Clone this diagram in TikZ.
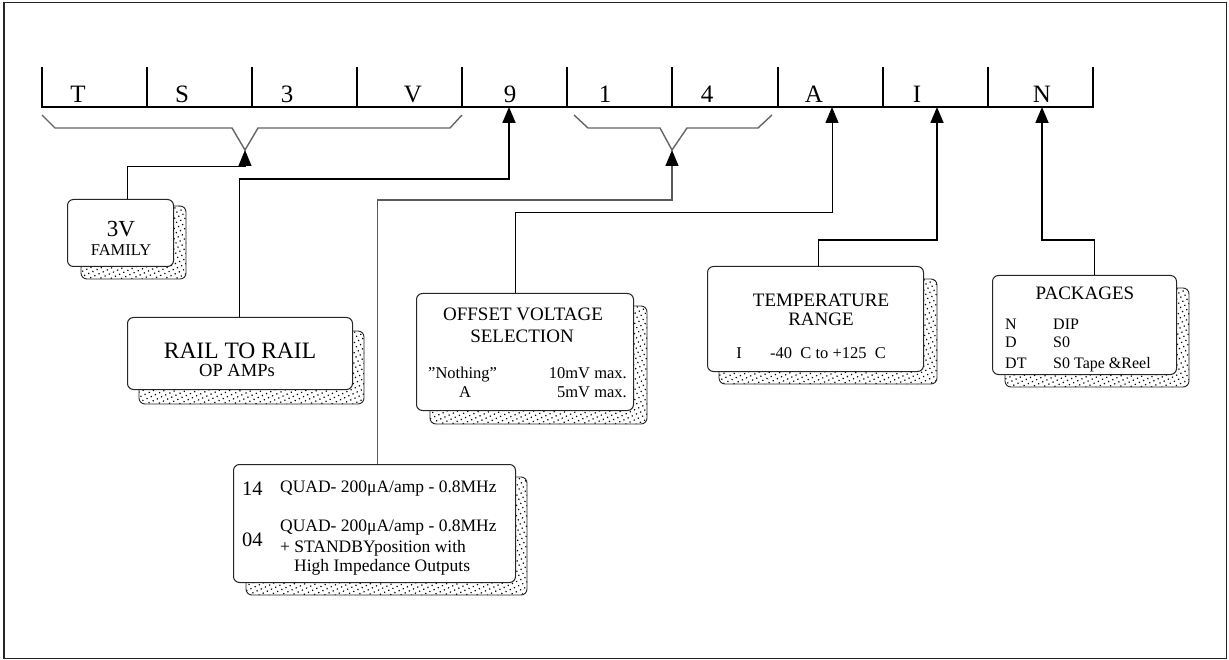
\documentclass[tikz,border=0pt]{standalone}
\usepackage{fontspec}
\setmainfont{Liberation Serif}
\usetikzlibrary{arrows.meta,patterns.meta}
\definecolor{brgray}{RGB}{100,100,100}
\definecolor{lngray}{RGB}{90,90,90}
\tikzset{
  frontbox/.style={draw=black!85, line width=1pt, rounded corners=6pt, fill=white, inner sep=0pt, anchor=north west},
  shadowbox/.style={draw=black!85, line width=0.9pt, rounded corners=6pt, pattern={Dots[distance=4.6pt,radius=0.85pt,angle=25]}},
  txt/.style={inner sep=0pt, anchor=base},
  bar/.style={line width=2.4pt, line cap=rect},
  brace/.style={draw=brgray, line width=1.4pt},
  tip/.style={-{Triangle[length=16pt,width=13pt,black]}},
  thickconn/.style={tip, line width=1.8pt, draw=black},
  thinconn/.style={tip, line width=1pt, draw=black},
  grayconn/.style={tip, line width=1.4pt, draw=lngray},
}
\begin{document}
\begin{tikzpicture}[x=1pt,y=-1pt]
\useasboundingbox (0,0) rectangle (1229,660);
\draw[line width=1.6pt, draw=black!85] (4,2.5) rectangle (1226.5,658.5);

% top bar
\coordinate (b0) at (42,107);
\coordinate (b10) at (1093,107);
\draw[bar] (42,68) -- (b0) -- (b10) -- (1093,68);
\foreach \x in {147,252,357,462,567,672,778,883,988}{
  \draw[bar] (\x,68) -- (\x,107);
}
% letters
\foreach \x/\l/\n in {78/T/lT,182/S/lS,287/3/l3,413/V/lV,510/9/l9,605/1/l1,707/4/l4,814/A/lA,917/I/lI,1042/N/lN}{
  \node[txt, font=\fontsize{25}{28}\selectfont] (\n) at (\x,103) {\l};
}
% braces
\coordinate (j1) at (245,150);
\coordinate (j2) at (672,150);
\draw[brace] (42,115) -- (55,128) -- (232,128) -- (j1) -- (258,128) -- (450,128) -- (462,115);
\draw[brace] (574,115) -- (588,128) -- (660,128) -- (j2) -- (687,128) -- (758,128) -- (772,115);
% arrow tips on bar
\coordinate (a9) at (509,107);
\coordinate (aA) at (832,107);
\coordinate (aI) at (937,107);
\coordinate (aN) at (1042,107);

% boxes: shadows first
\path[shadowbox] (81,206) rectangle (186,279);
\node[frontbox, minimum width=106pt, minimum height=67pt] (fam) at (67,199) {};
\path[shadowbox] (139,331) rectangle (364,404);
\node[frontbox, minimum width=225pt, minimum height=72pt] (rail) at (127,317) {};
\path[shadowbox] (430,306) rectangle (647,424);
\node[frontbox, minimum width=217pt, minimum height=117pt] (off) at (416,293) {};
\path[shadowbox] (719,279) rectangle (937,384);
\node[frontbox, minimum width=216pt, minimum height=105pt] (temp) at (707,266) {};
\path[shadowbox] (1005,288) rectangle (1189,387);
\node[frontbox, minimum width=184pt, minimum height=99pt] (pkg) at (992,275) {};
\path[shadowbox] (246,477) rectangle (527,595);
\node[frontbox, minimum width=282pt, minimum height=118pt] (bot) at (233,464) {};

% connectors
\draw[thinconn] ([xshift=7pt]fam.north) |- (245,167) -- (j1);
\draw[thickconn] ([xshift=-0.5pt]rail.north) |- (509,179) -- (a9);
\draw[grayconn] ([xshift=3pt]bot.north) |- (672,200) -- (j2);
\draw[thinconn] ([xshift=-9.5pt]off.north) |- (832,213) -- (aA);
\draw[thickconn] ([xshift=3pt]temp.north) |- (937,240) -- (aI);
\draw[thickconn] ([xshift=10pt]pkg.north) |- (1042,240) -- (aN);

% texts: 3V family
\node[txt, font=\fontsize{23}{25}\selectfont] (t3v) at (121,237) {3V};
\node[txt, font=\fontsize{16.5}{18}\selectfont] (tfam) at (121,256) {FAMILY};
% rail
\node[txt, font=\fontsize{23.5}{26}\selectfont] (trail) at (240,358) {RAIL TO RAIL};
\node[txt, font=\fontsize{18.5}{20}\selectfont] (tamp) at (237,377) {OP AMPs};
% offset
\node[txt, font=\fontsize{19}{20}\selectfont] (toff1) at (523,321) {OFFSET VOLTAGE};
\node[txt, font=\fontsize{19}{20}\selectfont] (toff2) at (522,342) {SELECTION};
\node[txt, anchor=base west, font=\fontsize{16.5}{18}\selectfont] (tn1) at (428,378) {"Nothing"};
\node[txt, anchor=base east, font=\fontsize{16.5}{18}\selectfont] (tn2) at (627,378) {10mV max.};
\node[txt, font=\fontsize{16.5}{18}\selectfont] (ta1) at (465,397) {A};
\node[txt, anchor=base east, font=\fontsize{16.5}{18}\selectfont] (ta2) at (627,397) {5mV max.};
% temperature
\node[txt, font=\fontsize{19}{20}\selectfont] (tt1) at (821,307) {TEMPERATURE};
\node[txt, font=\fontsize{19}{20}\selectfont] (tt2) at (821,326) {RANGE};
\node[txt, font=\fontsize{16.5}{18}\selectfont] (tt3) at (739,359) {I};
\node[txt, anchor=base west, font=\fontsize{16.5}{18}\selectfont] (tt4) at (770,359) {-40\ \ C to +125\ \ C};
% packages
\node[txt, font=\fontsize{19}{20}\selectfont] (tp0) at (1085,300) {PACKAGES};
\node[txt, anchor=base west, font=\fontsize{16}{18}\selectfont] (tp1) at (1005,330) {N};
\node[txt, anchor=base west, font=\fontsize{16}{18}\selectfont] (tp2) at (1053,330) {DIP};
\node[txt, anchor=base west, font=\fontsize{16}{18}\selectfont] (tp3) at (1005,348) {D};
\node[txt, anchor=base west, font=\fontsize{16}{18}\selectfont] (tp4) at (1053,348) {S0};
\node[txt, anchor=base west, font=\fontsize{16}{18}\selectfont] (tp5) at (1005,368) {DT};
\node[txt, anchor=base west, font=\fontsize{16}{18}\selectfont] (tp6) at (1053,368) {S0 Tape \&Reel};
% bottom box
\node[txt, anchor=base west, font=\fontsize{20.5}{22}\selectfont] (tb1) at (242,495) {14};
\node[txt, anchor=base west, font=\fontsize{17.5}{19}\selectfont] (tb2) at (280,492) {QUAD- 200μA/amp - 0.8MHz};
\node[txt, anchor=base west, font=\fontsize{20.5}{22}\selectfont] (tb3) at (242,546) {04};
\node[txt, anchor=base west, font=\fontsize{17.5}{19}\selectfont] (tb4) at (280,531) {QUAD- 200μA/amp - 0.8MHz};
\node[txt, anchor=base west, font=\fontsize{17.5}{19}\selectfont] (tb5) at (280,552) {+ STANDBYposition with};
\node[txt, anchor=base west, font=\fontsize{17.5}{19}\selectfont] (tb6) at (294,571) {High Impedance Outputs};
\end{tikzpicture}
\end{document}
